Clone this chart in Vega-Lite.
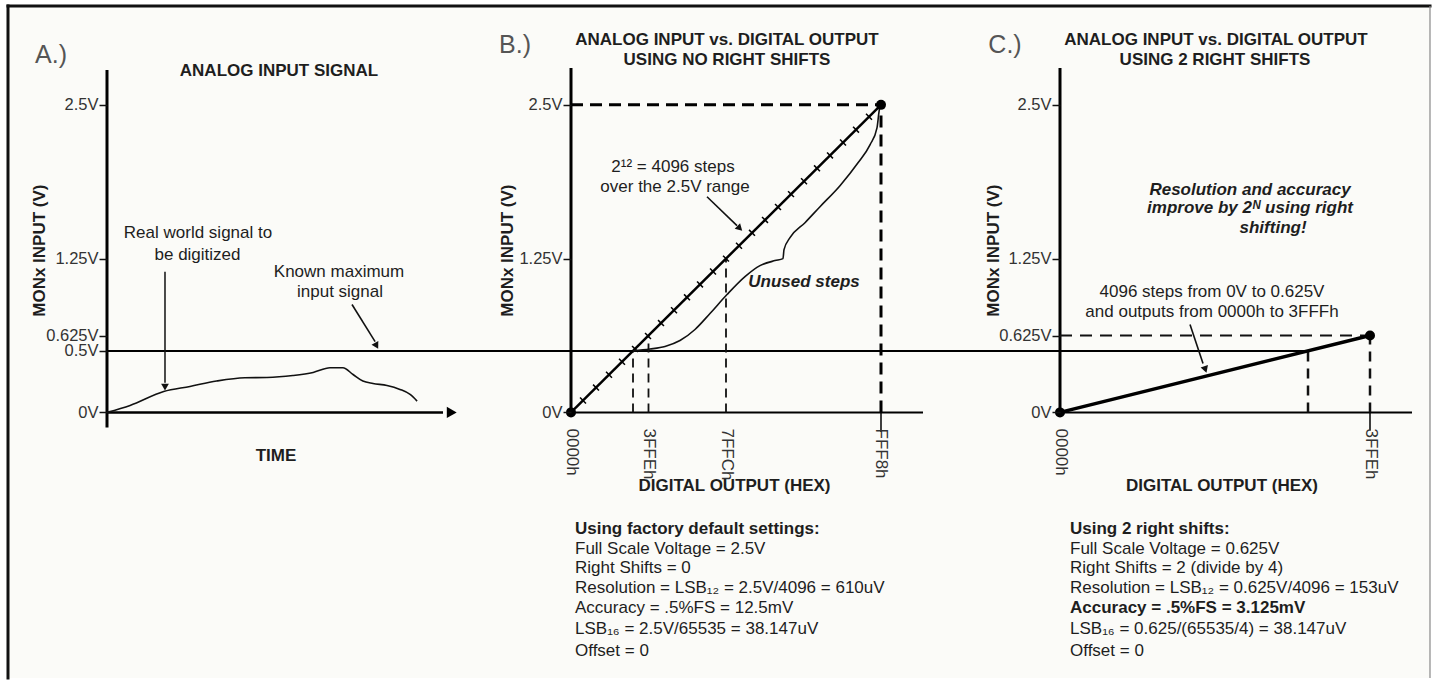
{
  "$schema": "https://vega.github.io/schema/vega-lite/v6.json",
  "width": 1434,
  "height": 681,
  "autosize": {"type": "fit", "contains": "padding"},
  "padding": 0,
  "background": "#ffffff",
  "config": {
    "view": {"stroke": null},
    "font": "Liberation Sans",
    "text": {"font": "Liberation Sans", "fontSize": 17, "color": "#1e1e1e", "baseline": "middle"}
  },
  "resolve": {"scale": {"x": "independent", "y": "independent"}},
  "layer": [
    {
      "encoding": {
        "x": {"field": "x", "type": "quantitative", "scale": {"domain": [-3.05714, 37.91429], "nice": false, "zero": false}, "axis": null},
        "y": {"field": "y", "type": "quantitative", "scale": {"domain": [-2.17532, 3.35227], "nice": false, "zero": false},
          "axis": {"orient": "left", "offset": -107, "values": [0, 0.5, 0.625, 1.25, 2.5], "labelExpr": "datum.value + 'V'", "domain": false, "grid": false, "ticks": true, "tickSize": 8, "tickWidth": 1.5, "tickColor": "#111", "labelPadding": 1, "labelFontSize": 16.5, "labelFont": "Liberation Sans", "labelColor": "#333", "labelOverlap": false, "labelBound": false, "labelFlush": false, "title": null, "zindex": 1}}
      },
      "layer": [
        {"data": {"values": [{"x": -2.8286, "x2": 37.8, "y": -2.159, "y2": 3.3036}]},
          "mark": {"type": "rect", "fill": "#fbfbf8", "stroke": null},
          "encoding": {"x2": {"field": "x2"}, "y2": {"field": "y2"}}},
        {"data": {"values": [{"x": -2.8286, "y": -2.159, "y2": 3.3036}]},
          "mark": {"type": "rule", "color": "#111", "strokeWidth": 3, "strokeCap": "square"},
          "encoding": {"y2": {"field": "y2"}}},
        {"data": {"values": [{"x": -2.8286, "x2": 37.8, "y": 3.3036}]},
          "mark": {"type": "rule", "color": "#111", "strokeWidth": 3, "strokeCap": "square"},
          "encoding": {"x2": {"field": "x2"}}},
        {"data": {"values": [{"x": 37.8, "y": -2.159, "y2": 3.3036}]},
          "mark": {"type": "rule", "color": "#888", "strokeWidth": 1.2},
          "encoding": {"y2": {"field": "y2"}}},
        {"data": {"values": [{"x": 0, "y": -0.122, "y2": 2.784}]},
          "mark": {"type": "rule", "color": "#000", "strokeWidth": 3},
          "encoding": {"y2": {"field": "y2"}}},
        {"data": {"values": [{"x": 0, "x2": 9.6, "y": 0}]},
          "mark": {"type": "rule", "color": "#000", "strokeWidth": 2.5},
          "encoding": {"x2": {"field": "x2"}}},
        {"data": {"values": [{"x": 9.85, "y": 0}]},
          "mark": {"type": "point", "shape": "triangle-right", "filled": true, "color": "#000", "size": 130, "opacity": 1}},
        {"data": {"values": [{"x": 0, "x2": 13.2571, "y": 0.5}]},
          "mark": {"type": "rule", "color": "#000", "strokeWidth": 2},
          "encoding": {"x2": {"field": "x2"}}},
        {"data": {"values": [
            {"x": 0, "y": 0}, {"x": 0.66, "y": 0.057}, {"x": 1.62, "y": 0.17}, {"x": 2.37, "y": 0.211},
            {"x": 3.13, "y": 0.255}, {"x": 3.94, "y": 0.282}, {"x": 4.57, "y": 0.284}, {"x": 5.31, "y": 0.3},
            {"x": 5.89, "y": 0.325}, {"x": 6.37, "y": 0.363}, {"x": 6.74, "y": 0.363}, {"x": 7.03, "y": 0.308},
            {"x": 7.31, "y": 0.255}, {"x": 7.6, "y": 0.235}, {"x": 8.0, "y": 0.219}, {"x": 8.37, "y": 0.187},
            {"x": 8.66, "y": 0.146}, {"x": 8.86, "y": 0.092}]},
          "mark": {"type": "line", "color": "#111", "strokeWidth": 1.6, "interpolate": "monotone"},
          "encoding": {}},
        {"data": {"values": [{"x": 1.657, "y": 1.144, "y2": 0.24}]},
          "mark": {"type": "rule", "color": "#111", "strokeWidth": 1.5},
          "encoding": {"y2": {"field": "y2"}}},
        {"data": {"values": [{"x": 1.657, "y": 0.205}]},
          "mark": {"type": "point", "shape": "triangle-down", "filled": true, "color": "#111", "size": 60, "opacity": 1}},
        {"data": {"values": [{"x": 7.0, "y": 0.877, "x2": 7.66, "y2": 0.575}]},
          "mark": {"type": "rule", "color": "#111", "strokeWidth": 1.6},
          "encoding": {"x2": {"field": "x2"}, "y2": {"field": "y2"}}},
        {"data": {"values": [{"x": 7.686, "y": 0.55}]},
          "mark": {"type": "point", "shape": "triangle", "angle": 151, "filled": true, "color": "#111", "size": 60, "opacity": 1}},
        {"data": {"values": [
            {"text": "Real world signal to", "x": 2.6, "y": 1.461},
            {"text": "be digitized", "x": 2.586, "y": 1.282},
            {"text": "Known maximum", "x": 6.629, "y": 1.144},
            {"text": "input signal", "x": 6.657, "y": 0.982}]},
          "mark": {"type": "text", "align": "center"},
          "encoding": {"text": {"field": "text", "type": "nominal"}}},
        {"data": {"values": [
            {"text": "ANALOG INPUT SIGNAL", "x": 4.914, "y": 2.776},
            {"text": "TIME", "x": 4.829, "y": -0.357}]},
          "mark": {"type": "text", "align": "center", "fontWeight": "bold"},
          "encoding": {"text": {"field": "text", "type": "nominal"}}},
        {"data": {"values": [{"text": "MONx INPUT (V)", "x": -1.914, "y": 1.315}]},
          "mark": {"type": "text", "align": "center", "fontWeight": "bold", "angle": 270},
          "encoding": {"text": {"field": "text", "type": "nominal"}}},
        {"data": {"values": [{"text": "A.)", "x": -1.6, "y": 2.906}]},
          "mark": {"type": "text", "align": "center", "fontSize": 25, "color": "#555"},
          "encoding": {"text": {"field": "text", "type": "nominal"}}}
      ]
    },
    {
      "encoding": {
        "x": {"field": "x", "type": "quantitative", "scale": {"domain": [-120699, 182422], "nice": false, "zero": false},
          "axis": {"orient": "bottom", "offset": -268, "values": [0, 16382, 32764, 65528], "format": "04X", "labelExpr": "datum.label + 'h'", "labelAngle": 90, "labelAlign": "left", "labelBaseline": "middle", "domain": false, "ticks": false, "tickSize": 0, "grid": false, "labelPadding": 16, "labelFontSize": 17, "labelFont": "Liberation Sans", "labelColor": "#333", "labelOverlap": false, "labelBound": false, "labelFlush": false, "title": null, "zindex": 1}},
        "y": {"field": "y", "type": "quantitative", "scale": {"domain": [-2.17532, 3.35227], "nice": false, "zero": false},
          "axis": {"orient": "left", "offset": -571, "values": [0, 1.25, 2.5], "labelExpr": "datum.value + 'V'", "domain": false, "grid": false, "ticks": true, "tickSize": 8, "tickWidth": 1.5, "tickColor": "#111", "labelPadding": 1, "labelFontSize": 16.5, "labelFont": "Liberation Sans", "labelColor": "#333", "labelOverlap": false, "labelBound": false, "labelFlush": false, "title": null, "zindex": 1}}
      },
      "layer": [
        {"data": {"values": [{"x": 0, "y": 0, "y2": 2.8}]},
          "mark": {"type": "rule", "color": "#000", "strokeWidth": 3},
          "encoding": {"y2": {"field": "y2"}}},
        {"data": {"values": [{"x": 0, "x2": 74406, "y": 0}]},
          "mark": {"type": "rule", "color": "#000", "strokeWidth": 2},
          "encoding": {"x2": {"field": "x2"}}},
        {"data": {"values": [{"x": 0, "x2": 103365, "y": 0.5}]},
          "mark": {"type": "rule", "color": "#000", "strokeWidth": 2},
          "encoding": {"x2": {"field": "x2"}}},
        {"data": {"values": [{"x": 0, "x2": 65528, "y": 2.5}]},
          "mark": {"type": "rule", "color": "#000", "strokeWidth": 3, "strokeDash": [12, 7]},
          "encoding": {"x2": {"field": "x2"}}},
        {"data": {"values": [{"x": 65528, "y": 0, "y2": 2.5}]},
          "mark": {"type": "rule", "color": "#000", "strokeWidth": 3, "strokeDash": [12, 7]},
          "encoding": {"y2": {"field": "y2"}}},
        {"data": {"values": [{"x": 65528, "y": -0.16, "y2": 0}]},
          "mark": {"type": "rule", "color": "#000", "strokeWidth": 1.5},
          "encoding": {"y2": {"field": "y2"}}},
        {"data": {"values": [{"x": 13107, "y": 0, "y2": 0.5}, {"x": 16382, "y": 0, "y2": 0.625}, {"x": 32764, "y": 0, "y2": 1.25}]},
          "mark": {"type": "rule", "color": "#111", "strokeWidth": 1.8, "strokeDash": [9, 6]},
          "encoding": {"y2": {"field": "y2"}}},
        {"data": {"values": [{"x": 0, "y": 0}, {"x": 65528, "y": 2.5}]},
          "mark": {"type": "line", "color": "#000", "strokeWidth": 2.5},
          "encoding": {}},
        {"data": {"values": [
            {"x": 2537, "y": 0.0968}, {"x": 5285, "y": 0.2016}, {"x": 8032, "y": 0.3064}, {"x": 10780, "y": 0.4113},
            {"x": 13528, "y": 0.5161}, {"x": 16276, "y": 0.621}, {"x": 19024, "y": 0.7258}, {"x": 21772, "y": 0.8306},
            {"x": 24520, "y": 0.9355}, {"x": 27268, "y": 1.0403}, {"x": 30016, "y": 1.1452}, {"x": 32764, "y": 1.25},
            {"x": 35512, "y": 1.3548}, {"x": 38260, "y": 1.4597}, {"x": 41008, "y": 1.5645}, {"x": 43756, "y": 1.6694},
            {"x": 46504, "y": 1.7742}, {"x": 49252, "y": 1.879}, {"x": 52000, "y": 1.9839}, {"x": 54748, "y": 2.0887},
            {"x": 57496, "y": 2.1935}, {"x": 60244, "y": 2.2984}, {"x": 62992, "y": 2.4032}]},
          "mark": {"type": "point", "shape": "M-1,0L1,0", "angle": 45, "filled": false, "stroke": "#000", "strokeWidth": 1.5, "size": 70, "opacity": 1}},
        {"data": {"values": [
            {"x": 13106, "y": 0.5}, {"x": 16699, "y": 0.515}, {"x": 19870, "y": 0.536}, {"x": 23041, "y": 0.584},
            {"x": 26211, "y": 0.674}, {"x": 29382, "y": 0.804}, {"x": 32975, "y": 0.958}, {"x": 36780, "y": 1.104},
            {"x": 39951, "y": 1.193}, {"x": 43122, "y": 1.234}, {"x": 44813, "y": 1.25}, {"x": 45024, "y": 1.323},
            {"x": 46292, "y": 1.42}, {"x": 49463, "y": 1.542}, {"x": 52634, "y": 1.672}, {"x": 56861, "y": 1.843},
            {"x": 60666, "y": 2.029}, {"x": 63203, "y": 2.175}, {"x": 64682, "y": 2.313}, {"x": 65105, "y": 2.443},
            {"x": 65316, "y": 2.492}]},
          "mark": {"type": "line", "color": "#111", "strokeWidth": 1.6, "interpolate": "monotone"},
          "encoding": {}},
        {"data": {"values": [{"x": 0, "y": 0}, {"x": 65528, "y": 2.5}]},
          "mark": {"type": "point", "shape": "circle", "filled": true, "color": "#000", "size": 100, "opacity": 1}},
        {"data": {"values": [{"x": 28748, "y": 1.753, "x2": 35089, "y2": 1.518}]},
          "mark": {"type": "rule", "color": "#111", "strokeWidth": 1.6},
          "encoding": {"x2": {"field": "x2"}, "y2": {"field": "y2"}}},
        {"data": {"values": [{"x": 35512, "y": 1.502}]},
          "mark": {"type": "point", "shape": "triangle", "angle": 134, "filled": true, "color": "#111", "size": 60, "opacity": 1}},
        {"data": {"values": [
            {"text": "2¹² = 4096 steps", "x": 21561, "y": 1.997},
            {"text": "over the 2.5V range", "x": 21984, "y": 1.834}]},
          "mark": {"type": "text", "align": "center"},
          "encoding": {"text": {"field": "text", "type": "nominal"}}},
        {"data": {"values": [{"text": "Unused steps", "x": 49252, "y": 1.063}]},
          "mark": {"type": "text", "align": "center", "fontWeight": "bold", "fontStyle": "italic"},
          "encoding": {"text": {"field": "text", "type": "nominal"}}},
        {"data": {"values": [
            {"text": "ANALOG INPUT vs. DIGITAL OUTPUT", "x": 32975, "y": 3.0276},
            {"text": "USING NO RIGHT SHIFTS", "x": 32975, "y": 2.8653},
            {"text": "DIGITAL OUTPUT (HEX)", "x": 34561, "y": -0.6006}]},
          "mark": {"type": "text", "align": "center", "fontWeight": "bold"},
          "encoding": {"text": {"field": "text", "type": "nominal"}}},
        {"data": {"values": [{"text": "MONx INPUT (V)", "x": -13317, "y": 1.315}]},
          "mark": {"type": "text", "align": "center", "fontWeight": "bold", "angle": 270},
          "encoding": {"text": {"field": "text", "type": "nominal"}}},
        {"data": {"values": [{"text": "B.)", "x": -11837, "y": 2.987}]},
          "mark": {"type": "text", "align": "center", "fontSize": 25, "color": "#555"},
          "encoding": {"text": {"field": "text", "type": "nominal"}}},
        {"data": {"values": [{"text": "Using factory default settings:", "x": 846, "y": -0.9497}]},
          "mark": {"type": "text", "align": "left", "fontWeight": "bold"},
          "encoding": {"text": {"field": "text", "type": "nominal"}}},
        {"data": {"values": [
            {"text": "Full Scale Voltage = 2.5V", "x": 846, "y": -1.112},
            {"text": "Right Shifts = 0", "x": 846, "y": -1.2662},
            {"text": "Resolution = LSB₁₂ = 2.5V/4096 = 610uV", "x": 846, "y": -1.4286},
            {"text": "Accuracy = .5%FS = 12.5mV", "x": 846, "y": -1.5909},
            {"text": "LSB₁₆ = 2.5V/65535 = 38.147uV", "x": 846, "y": -1.7614},
            {"text": "Offset = 0", "x": 846, "y": -1.9399}]},
          "mark": {"type": "text", "align": "left"},
          "encoding": {"text": {"field": "text", "type": "nominal"}}}
      ]
    },
    {
      "encoding": {
        "x": {"field": "x", "type": "quantitative", "scale": {"domain": [-56016, 19764], "nice": false, "zero": false},
          "axis": {"orient": "bottom", "offset": -268, "values": [0, 16382], "format": "04X", "labelExpr": "datum.label + 'h'", "labelAngle": 90, "labelAlign": "left", "labelBaseline": "middle", "domain": false, "ticks": false, "tickSize": 0, "grid": false, "labelPadding": 16, "labelFontSize": 17, "labelFont": "Liberation Sans", "labelColor": "#333", "labelOverlap": false, "labelBound": false, "labelFlush": false, "title": null, "zindex": 1}},
        "y": {"field": "y", "type": "quantitative", "scale": {"domain": [-2.17532, 3.35227], "nice": false, "zero": false},
          "axis": {"orient": "left", "offset": -1060, "values": [0, 0.625, 1.25, 2.5], "labelExpr": "datum.value + 'V'", "domain": false, "grid": false, "ticks": true, "tickSize": 8, "tickWidth": 1.5, "tickColor": "#111", "labelPadding": 1, "labelFontSize": 16.5, "labelFont": "Liberation Sans", "labelColor": "#333", "labelOverlap": false, "labelBound": false, "labelFlush": false, "title": null, "zindex": 1}}
      },
      "layer": [
        {"data": {"values": [{"x": 0, "y": 0, "y2": 2.8}]},
          "mark": {"type": "rule", "color": "#000", "strokeWidth": 3},
          "encoding": {"y2": {"field": "y2"}}},
        {"data": {"values": [{"x": 0, "x2": 18601, "y": 0}]},
          "mark": {"type": "rule", "color": "#000", "strokeWidth": 2},
          "encoding": {"x2": {"field": "x2"}}},
        {"data": {"values": [{"x": 0, "x2": 13106, "y": 0.5}]},
          "mark": {"type": "rule", "color": "#000", "strokeWidth": 2},
          "encoding": {"x2": {"field": "x2"}}},
        {"data": {"values": [{"x": 0, "x2": 16382, "y": 0.625}]},
          "mark": {"type": "rule", "color": "#111", "strokeWidth": 2, "strokeDash": [12, 8]},
          "encoding": {"x2": {"field": "x2"}}},
        {"data": {"values": [{"x": 16382, "y": 0, "y2": 0.625}, {"x": 13106, "y": 0, "y2": 0.5}]},
          "mark": {"type": "rule", "color": "#111", "strokeWidth": 2.5, "strokeDash": [10, 7]},
          "encoding": {"y2": {"field": "y2"}}},
        {"data": {"values": [{"x": 16382, "y": -0.15, "y2": 0}]},
          "mark": {"type": "rule", "color": "#000", "strokeWidth": 1.5},
          "encoding": {"y2": {"field": "y2"}}},
        {"data": {"values": [{"x": 0, "y": 0}, {"x": 16382, "y": 0.625}]},
          "mark": {"type": "line", "color": "#000", "strokeWidth": 3.5},
          "encoding": {}},
        {"data": {"values": [{"x": 0, "y": 0}, {"x": 16382, "y": 0.625}]},
          "mark": {"type": "point", "shape": "circle", "filled": true, "color": "#000", "size": 100, "opacity": 1}},
        {"data": {"values": [{"x": 6870, "y": 0.714, "x2": 7557, "y2": 0.398}]},
          "mark": {"type": "rule", "color": "#111", "strokeWidth": 1.6},
          "encoding": {"x2": {"field": "x2"}, "y2": {"field": "y2"}}},
        {"data": {"values": [{"x": 7663, "y": 0.357}]},
          "mark": {"type": "point", "shape": "triangle", "angle": 161, "filled": true, "color": "#111", "size": 60, "opacity": 1}},
        {"data": {"values": [
            {"text": "4096 steps from 0V to 0.625V", "x": 8032, "y": 0.982},
            {"text": "and outputs from 0000h to 3FFFh", "x": 8032, "y": 0.82}]},
          "mark": {"type": "text", "align": "center"},
          "encoding": {"text": {"field": "text", "type": "nominal"}}},
        {"data": {"values": [
            {"text": "Resolution and accuracy", "x": 10041, "y": 1.81},
            {"text": "improve by 2ᴺ using right", "x": 10041, "y": 1.664},
            {"text": "shifting!", "x": 11258, "y": 1.502}]},
          "mark": {"type": "text", "align": "center", "fontWeight": "bold", "fontStyle": "italic"},
          "encoding": {"text": {"field": "text", "type": "nominal"}}},
        {"data": {"values": [
            {"text": "ANALOG INPUT vs. DIGITAL OUTPUT", "x": 8244, "y": 3.0276},
            {"text": "USING 2 RIGHT SHIFTS", "x": 8191, "y": 2.8653},
            {"text": "DIGITAL OUTPUT (HEX)", "x": 8561, "y": -0.6006}]},
          "mark": {"type": "text", "align": "center", "fontWeight": "bold"},
          "encoding": {"text": {"field": "text", "type": "nominal"}}},
        {"data": {"values": [{"text": "MONx INPUT (V)", "x": -3488, "y": 1.315}]},
          "mark": {"type": "text", "align": "center", "fontWeight": "bold", "angle": 270},
          "encoding": {"text": {"field": "text", "type": "nominal"}}},
        {"data": {"values": [{"text": "C.)", "x": -2906, "y": 2.987}]},
          "mark": {"type": "text", "align": "center", "fontSize": 25, "color": "#555"},
          "encoding": {"text": {"field": "text", "type": "nominal"}}},
        {"data": {"values": [
            {"text": "Using 2 right shifts:", "x": 528, "y": -0.9497},
            {"text": "Accuracy = .5%FS = 3.125mV", "x": 528, "y": -1.5909}]},
          "mark": {"type": "text", "align": "left", "fontWeight": "bold"},
          "encoding": {"text": {"field": "text", "type": "nominal"}}},
        {"data": {"values": [
            {"text": "Full Scale Voltage = 0.625V", "x": 528, "y": -1.112},
            {"text": "Right Shifts = 2 (divide by 4)", "x": 528, "y": -1.2662},
            {"text": "Resolution = LSB₁₂ = 0.625V/4096 = 153uV", "x": 528, "y": -1.4286},
            {"text": "LSB₁₆ = 0.625/(65535/4) = 38.147uV", "x": 528, "y": -1.7614},
            {"text": "Offset = 0", "x": 528, "y": -1.9399}]},
          "mark": {"type": "text", "align": "left"},
          "encoding": {"text": {"field": "text", "type": "nominal"}}}
      ]
    }
  ]
}
